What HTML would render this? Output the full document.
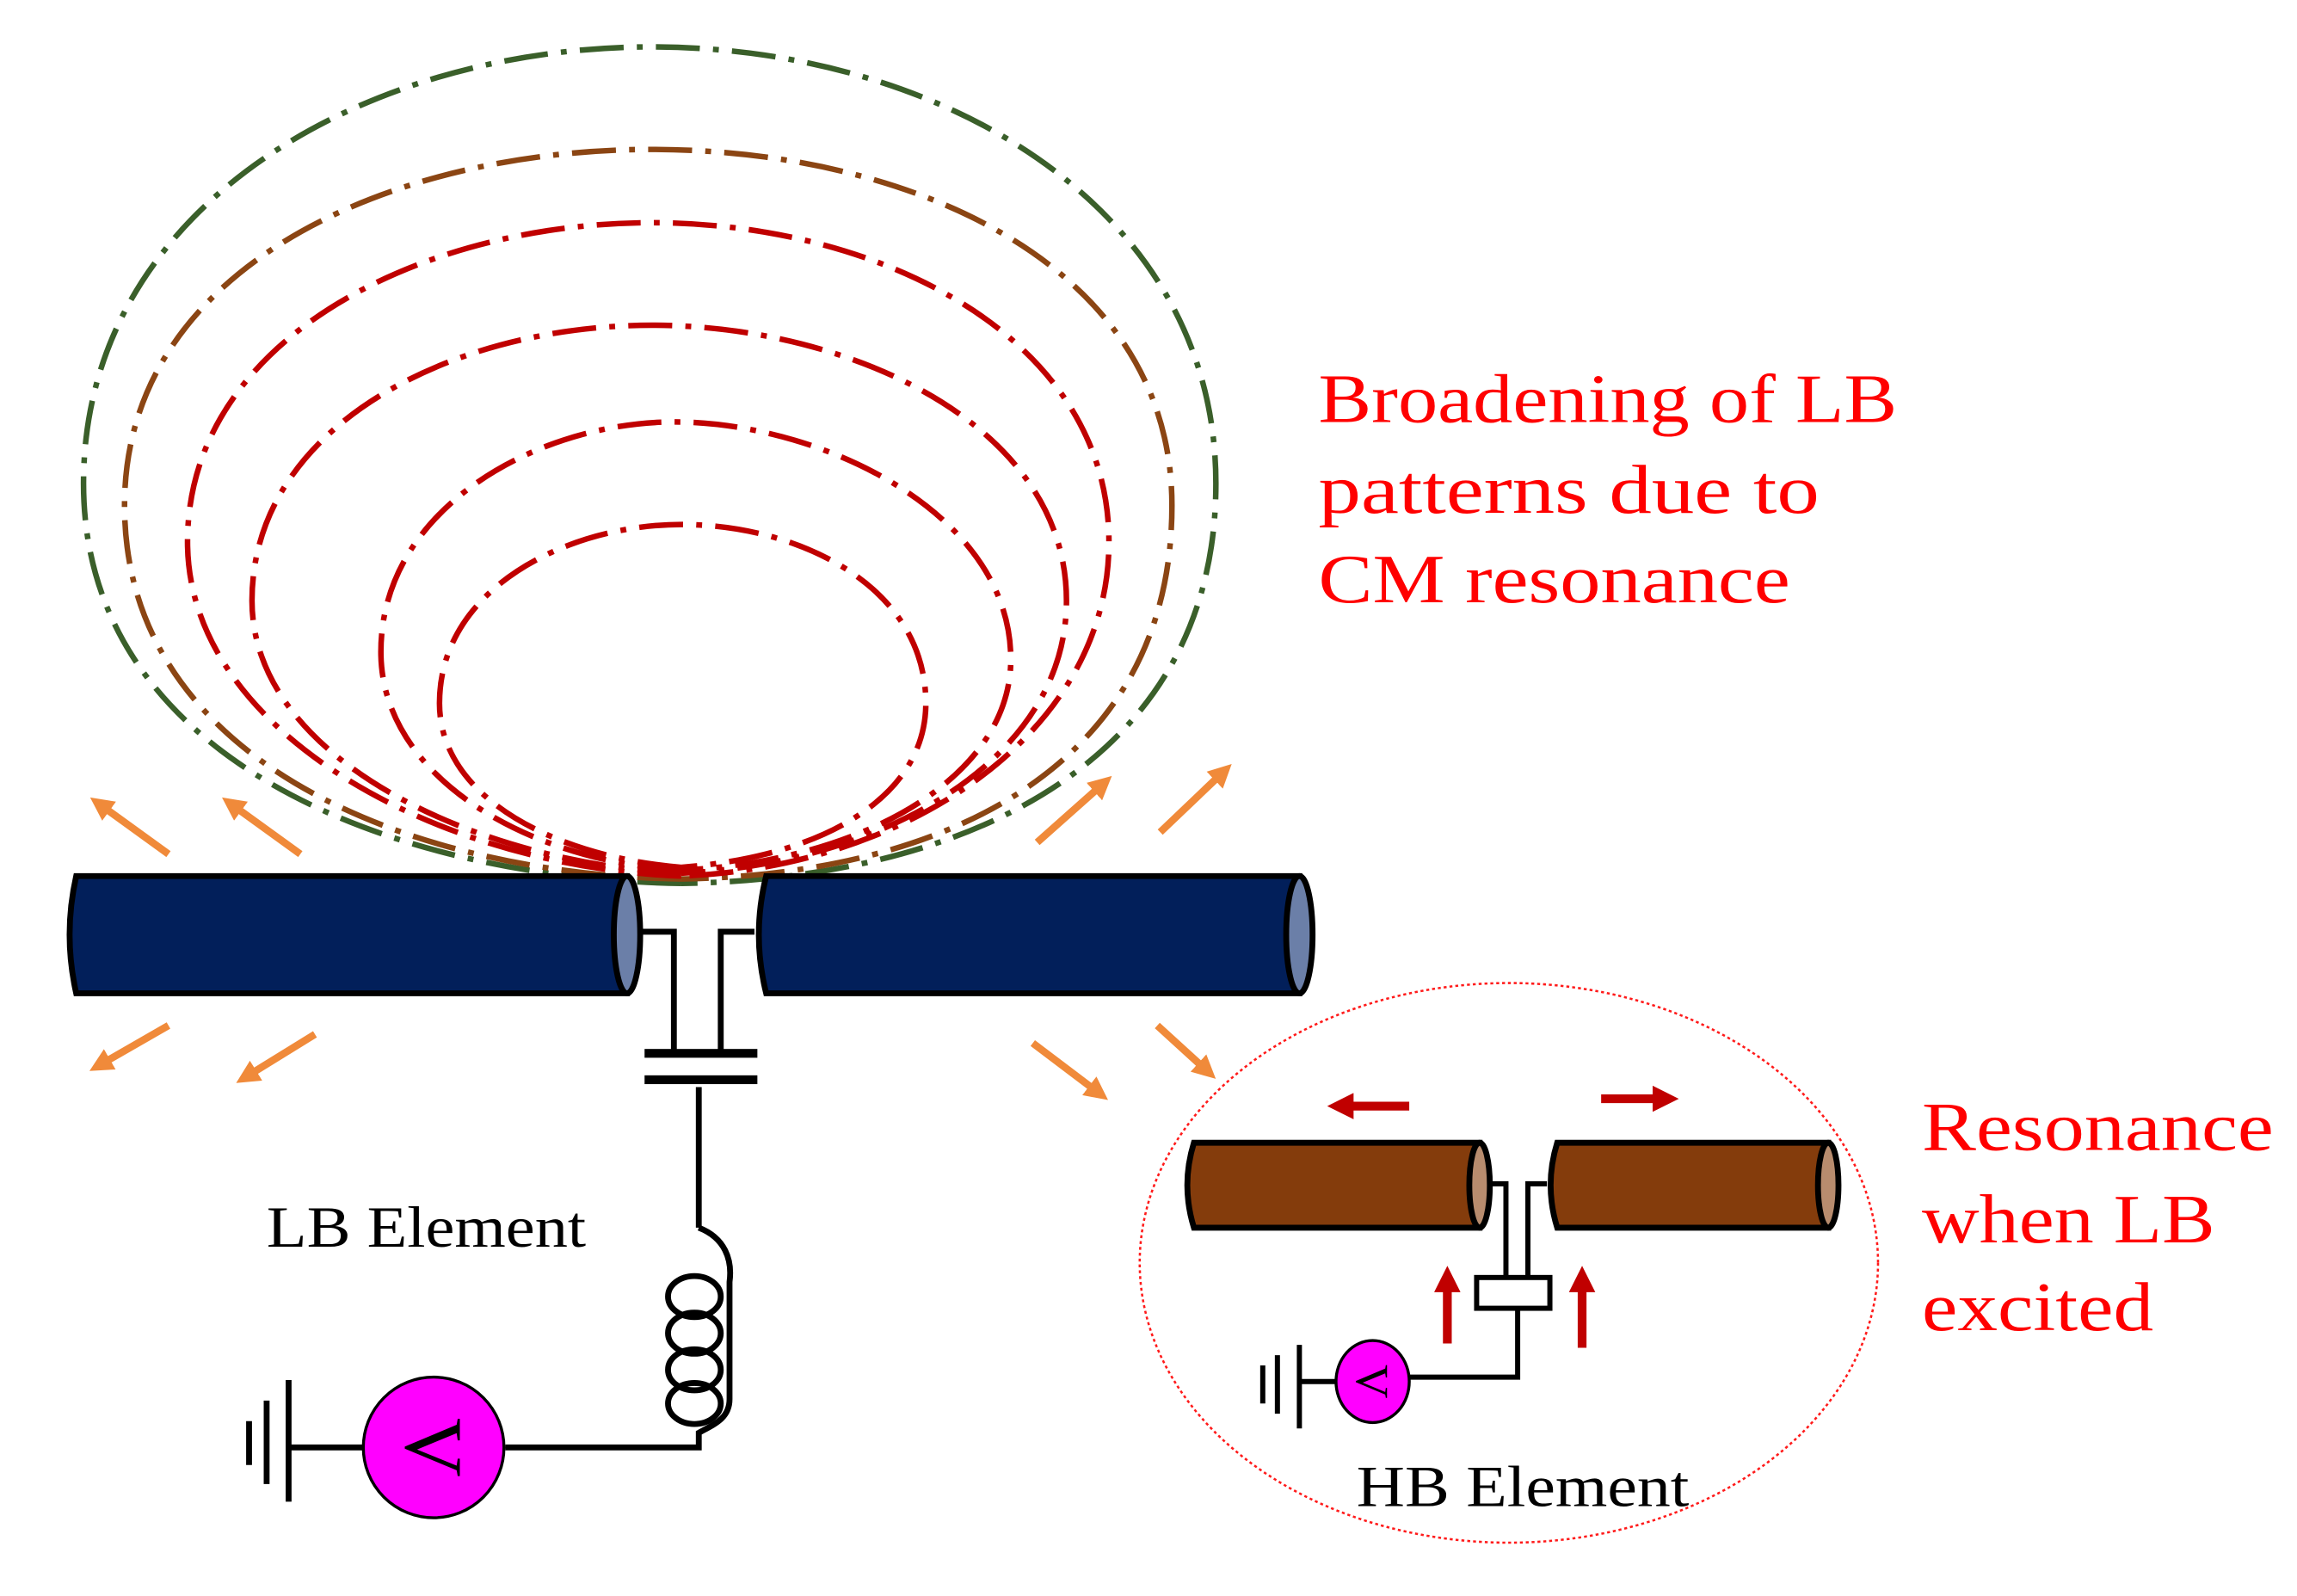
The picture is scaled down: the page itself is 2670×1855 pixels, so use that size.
<!DOCTYPE html>
<html><head><meta charset="utf-8"><style>
html,body{margin:0;padding:0;background:#fff;}
svg{display:block;}
text{font-family:"Liberation Serif",serif;}
</style></head><body>
<svg width="2670" height="1855" viewBox="0 0 1568 1089.4" xmlns="http://www.w3.org/2000/svg">
<defs>
<marker id="ao" viewBox="0 0 10 10" refX="5" refY="5" markerWidth="3.2" markerHeight="3.2" orient="auto"><path d="M0,0 L10,5 L0,10 z" fill="#f08a3a"/></marker>
<marker id="ar" viewBox="0 0 10 10" refX="5" refY="5" markerWidth="3" markerHeight="3" orient="auto"><path d="M0,0 L10,5 L0,10 z" fill="#c00000"/></marker>
</defs>
<rect width="1568" height="1090" fill="#fff"/>
<g fill="none" stroke-width="3.8" stroke-dasharray="30 9 4 9">
<path d="M465,603 C270,600 57,520 57,330 C57,140 250,32 445,32 C640,32 830,140 830,330 C830,520 660,600 465,603" stroke="#3a5f2a"/>
<path d="M465,600 C280,597 85,520 85,345 C85,180 270,102 445,102 C620,102 800,180 800,345 C800,520 650,597 465,600" stroke="#8b4513"/>
<path d="M465,598 C300,592 128,500 128,370 C128,230 290,152 445,152 C600,152 757,230 757,370 C757,500 620,592 465,598" stroke="#c00000"/>
<path d="M465,596 C330,590 172,520 172,410 C172,290 310,222 445,222 C580,222 728,290 728,410 C728,520 600,590 465,596" stroke="#c00000"/>
<path d="M465,594 C360,588 260,530 260,445 C260,345 370,288 460,288 C560,288 690,350 690,450 C690,530 590,588 465,594" stroke="#c00000"/>
<path d="M465,592 C380,585 300,545 300,480 C300,400 390,358 465,358 C545,358 632,400 632,480 C632,545 560,585 465,592" stroke="#c00000"/>
</g>
<g stroke="#000" stroke-width="4">
<path d="M52,598 L428,598 L428,678 L52,678 Q43,638 52,598 z" fill="#021f5a"/>
<ellipse cx="428" cy="638" rx="9" ry="40" fill="#6b7fa8"/>
<path d="M523,598 L887,598 L887,678 L523,678 Q513,638 523,598 z" fill="#021f5a"/>
<ellipse cx="887" cy="638" rx="9" ry="40" fill="#6b7fa8"/>
</g>
<g fill="none" stroke="#000" stroke-width="4">
<path d="M437,636 H460 V720"/>
<path d="M515,636 H492 V720"/>
<path d="M477,742 V838"/>
<path d="M477,838 C495,845 500,860 498,875 L498,955 C498,968 488,972 477,978 V988 H345"/>
<ellipse cx="474" cy="885" rx="18" ry="14"/>
<ellipse cx="474" cy="910" rx="18" ry="14"/>
<ellipse cx="474" cy="935" rx="18" ry="14"/>
<ellipse cx="474" cy="958" rx="18" ry="14"/>
<path d="M248,988 H197"/>
<path d="M197,942 V1025 M182,956 V1013 M170,970 V1000"/>
</g>
<rect x="440" y="716" width="77" height="6" fill="#000"/>
<rect x="440" y="734" width="77" height="6" fill="#000"/>
<ellipse cx="296" cy="988" rx="48" ry="48" fill="#ff00ff" stroke="#000" stroke-width="2"/>
<text x="296" y="988" font-size="56" text-anchor="middle" dominant-baseline="central" transform="rotate(90 296 988)">V</text>
<text x="182" y="851" font-size="40" fill="#000" textLength="218" lengthAdjust="spacingAndGlyphs">LB Element</text>
<g stroke="#f08a3a" stroke-width="5" marker-end="url(#ao)">
<line x1="115" y1="583" x2="68" y2="549"/>
<line x1="205" y1="583" x2="158" y2="549"/>
<line x1="708" y1="575" x2="753" y2="535"/>
<line x1="792" y1="568" x2="835" y2="527"/>
<line x1="115" y1="700" x2="68" y2="727"/>
<line x1="215" y1="706" x2="168" y2="735"/>
<line x1="705" y1="712" x2="750" y2="746"/>
<line x1="790" y1="700" x2="824" y2="731"/>
</g>
<ellipse cx="1030" cy="862" rx="252" ry="191" fill="none" stroke="#ff1a1a" stroke-width="1.5" stroke-dasharray="2 2"/>
<g stroke="#000" stroke-width="4">
<path d="M815,780 L1010,780 L1010,838 L815,838 Q806,809 815,780 z" fill="#843c0c"/>
<ellipse cx="1010" cy="809" rx="7" ry="29" fill="#b88c6e"/>
<path d="M1063,780 L1248,780 L1248,838 L1063,838 Q1054,809 1063,780 z" fill="#843c0c"/>
<ellipse cx="1248" cy="809" rx="7" ry="29" fill="#b88c6e"/>
</g>
<g fill="none" stroke="#000" stroke-width="3.5">
<path d="M1017,808 H1028 V872"/>
<path d="M1056,808 H1043 V872"/>
<rect x="1008" y="872" width="50" height="21" fill="#fff"/>
<path d="M1036,893 V940 H962"/>
<path d="M912,943 H887 M887,918 V975 M872,925 V965 M862,932 V958"/>
</g>
<ellipse cx="937" cy="943" rx="25" ry="28" fill="#ff00ff" stroke="#000" stroke-width="2"/>
<text x="937" y="943" font-size="32" text-anchor="middle" dominant-baseline="central" transform="rotate(90 937 943)">V</text>
<g stroke="#c00000" stroke-width="6" marker-end="url(#ar)">
<line x1="962" y1="755" x2="915" y2="755"/>
<line x1="1093" y1="750" x2="1137" y2="750"/>
<line x1="988" y1="917" x2="988" y2="873"/>
<line x1="1080" y1="920" x2="1080" y2="873"/>
</g>
<text x="926" y="1028" font-size="40" fill="#000" textLength="227" lengthAdjust="spacingAndGlyphs">HB Element</text>
<g fill="#ff0000" font-size="47">
<text x="900" y="288" textLength="395" lengthAdjust="spacingAndGlyphs">Broadening of LB</text>
<text x="900" y="350" textLength="342" lengthAdjust="spacingAndGlyphs">patterns due to</text>
<text x="900" y="411" textLength="322" lengthAdjust="spacingAndGlyphs">CM resonance</text>
<text x="1312" y="785" textLength="240" lengthAdjust="spacingAndGlyphs">Resonance</text>
<text x="1312" y="848" textLength="200" lengthAdjust="spacingAndGlyphs">when LB</text>
<text x="1312" y="908" textLength="158" lengthAdjust="spacingAndGlyphs">excited</text>
</g>
</svg>
</body></html>
